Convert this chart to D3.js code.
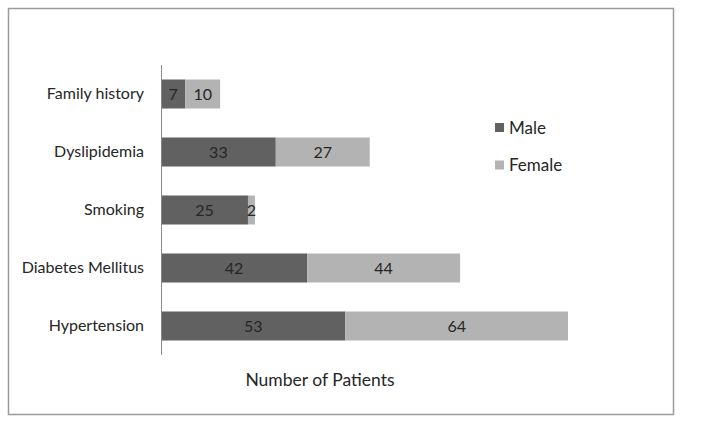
<!DOCTYPE html>
<html>
<head>
<meta charset="utf-8">
<script src="https://cdn.jsdelivr.net/npm/d3@7"></script>
<style>
  body { margin: 0; background: #fff; }
  svg text { font-family: Lato, sans-serif; fill: #262626; }
</style>
</head>
<body>
<svg id="chart" width="704" height="437"></svg>
<script>
"use strict";

// Gegevens uit de figuur
var categorieen = ["Family history", "Dyslipidemia", "Smoking", "Diabetes Mellitus", "Hypertension"];
var mannen = [7, 33, 25, 42, 53];
var vrouwen = [10, 27, 2, 44, 64];
var reeksen = ["Male", "Female"];
var kleuren = ["#616161", "#b3b3b3"];

var svg = d3.select("#chart");

// Kader rond de grafiek
svg.append("rect")
    .attr("x", 8.5).attr("y", 8.5)
    .attr("width", 665).attr("height", 406)
    .attr("fill", "none")
    .attr("stroke", "#9a9a9a")
    .attr("stroke-width", 1.5);

var x = d3.scaleLinear().domain([0, 140]).range([161, 648]);
var y = d3.scaleBand().domain(categorieen).range([65, 355]).paddingInner(0.5).paddingOuter(0.25);

var rijen = categorieen.map(function (c, i) { return { categorie: c, Male: mannen[i], Female: vrouwen[i] }; });
var stapels = d3.stack().keys(reeksen)(rijen);

var groep = svg.selectAll("g.reeks")
    .data(stapels)
    .enter().append("g")
    .attr("class", "reeks")
    .attr("fill", function (d, i) { return kleuren[i]; });

groep.selectAll("rect")
    .data(function (d) { return d; })
    .enter().append("rect")
    .attr("x", function (d) { return x(d[0]); })
    .attr("y", function (d) { return y(d.data.categorie); })
    .attr("width", function (d) { return x(d[1]) - x(d[0]); })
    .attr("height", y.bandwidth());

// Waarden in de balken
groep.selectAll("text")
    .data(function (d) { return d; })
    .enter().append("text")
    .attr("x", function (d) { return (x(d[0]) + x(d[1])) / 2; })
    .attr("y", function (d) { return y(d.data.categorie) + y.bandwidth() / 2; })
    .attr("dy", "0.35em")
    .attr("text-anchor", "middle")
    .style("font-size", "16px")
    .text(function (d) { return d[1] - d[0]; });

// Verticale as met categorieen
var as = svg.append("g")
    .attr("transform", "translate(161,0)")
    .call(d3.axisLeft(y).tickSize(0).tickPadding(17));
as.select(".domain").attr("stroke", "#8a8a8a").attr("d", "M0.5,65V355");
as.selectAll("text").style("font-size", "16px").style("font-family", "Lato, sans-serif").attr("fill", "#262626");

// Astitel
svg.append("text")
    .attr("x", 320)
    .attr("y", 386)
    .attr("text-anchor", "middle")
    .style("font-size", "17.5px")
    .text("Number of Patients");

// Legenda
var legenda = svg.selectAll("g.legenda")
    .data(reeksen)
    .enter().append("g")
    .attr("class", "legenda")
    .attr("transform", function (d, i) { return "translate(495," + (123 + i * 37.5) + ")"; });
legenda.append("rect")
    .attr("width", 9).attr("height", 9)
    .attr("fill", function (d, i) { return kleuren[i]; });
legenda.append("text")
    .attr("x", 14)
    .attr("y", 5)
    .attr("dy", "0.35em")
    .style("font-size", "17px")
    .text(function (d) { return d; });
</script>
</body>
</html>
